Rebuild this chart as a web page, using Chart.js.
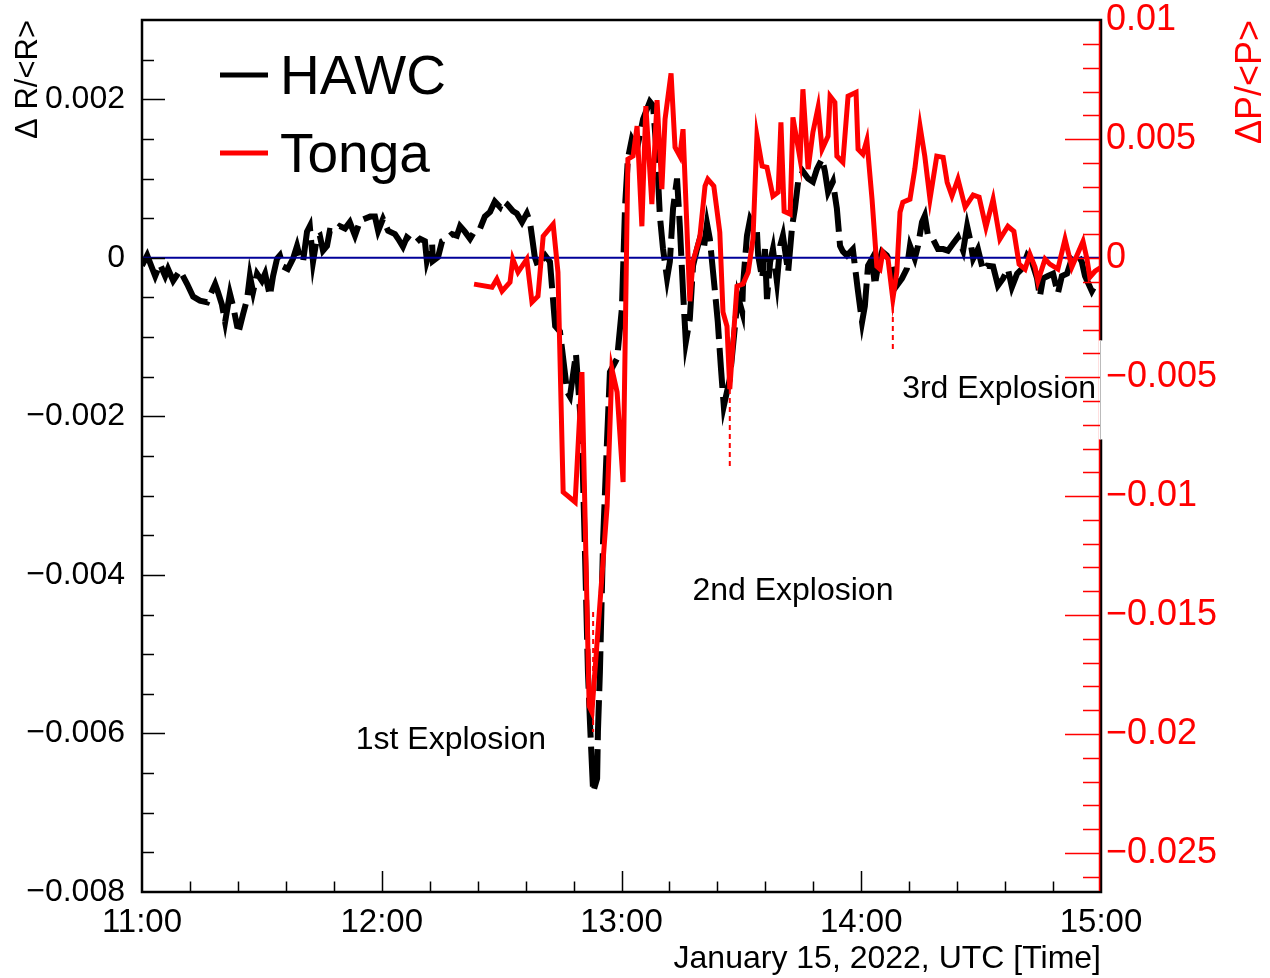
<!DOCTYPE html>
<html>
<head>
<meta charset="utf-8">
<script src="https://cdn.jsdelivr.net/npm/chart.js@4"></script>
<style>
  body { margin: 0; background: #fff; }
  #wrap { width: 1270px; height: 978px; }
</style>
</head>
<body>
<div id="wrap"><canvas id="tongaChart"></canvas></div>
<script>
// time is in minutes after 11:00 UTC
const hawcTime = [
  0, 1.3, 3.3, 4.5, 5.8, 6.5, 7.8, 9.5, 11.3, 12.8, 14.5, 16.3, 17.5, 18.3, 19.0, 20.0, 20.8, 22.0, 22.8, 23.8,
  24.5, 25.3, 26.3, 27.0, 27.8, 28.8, 30.0, 30.8, 32.0, 32.8, 33.8, 34.5, 35.3, 36.5, 37.8, 38.8, 39.5, 40.3, 41.3, 42.0,
  42.8, 43.8, 44.5, 45.3, 46.3, 47.0, 48.3, 49.5, 50.8, 52.0, 53.3, 54.6, 57.1, 58.3, 59.1, 60.3, 61.6, 63.3, 64.1, 65.3,
  66.3, 67.6, 68.3, 69.6, 70.8, 71.3, 72.6, 72.8, 74.1, 75.1, 76.3, 77.6, 78.8, 79.6, 80.8, 82.1, 83.3, 84.6, 85.8, 87.1,
  88.3, 89.6, 90.3, 91.3, 92.8, 93.8, 95.1, 96.3, 97.1, 98.3, 99.1, 100.9, 102.1, 103.4, 104.6, 106.4, 107.1, 108.6, 110.1, 110.9,
  111.6, 112.1, 112.9, 113.9, 114.1, 114.6, 115.4, 116.4, 117.1, 118.9, 120.1, 120.9, 121.6, 122.6, 123.9, 125.4, 127.1, 127.9, 128.9, 129.6,
  130.4, 131.4, 132.1, 132.9, 133.9, 134.6, 135.4, 136.1, 137.1, 137.9, 138.9, 139.6, 140.6, 141.4, 142.1, 143.4, 144.1, 144.9, 145.6, 147.1,
  148.4, 149.1, 150.2, 150.4, 151.4, 152.2, 153.9, 154.2, 155.2, 155.9, 156.4, 157.2, 157.9, 158.9, 159.7, 160.4, 161.7, 162.7, 163.4, 164.2,
  165.4, 166.7, 167.9, 168.9, 170.2, 170.9, 171.7, 172.9, 173.9, 174.7, 175.4, 176.4, 177.9, 179.1, 180.2, 180.9, 181.7, 182.7, 183.4, 184.2,
  185.2, 186.4, 187.7, 188.9, 190.2, 191.4, 192.2, 193.4, 194.2, 195.2, 195.9, 196.7, 197.9, 199.2, 200.5, 201.7, 203.0, 204.2, 205.5, 206.5,
  207.2, 208.0, 209.2, 210.5, 211.5, 213.0, 214.2, 215.5, 216.7, 217.7, 219.0, 220.2, 221.5, 222.7, 224.0, 224.7, 225.5, 226.7, 228.0, 229.2,
  230.2, 231.5, 232.7, 234.0, 235.2, 236.0, 237.7, 239.0
];
const hawcRate = [
  -0.00010, 0.00003, -0.00023, -0.00008, -0.00023, -0.00014, -0.00029, -0.00016, -0.00033, -0.00049, -0.00054, -0.00056, -0.00042, -0.00033, -0.00043, -0.00059, -0.00081, -0.00045, -0.00061, -0.00086,
  -0.00087, -0.00071, -0.00052, -0.00023, -0.00043, -0.00020, -0.00029, -0.00020, -0.00048, -0.00023, -0.00001, 0.00003, -0.00011, -0.00014, -0.00001, 0.00015, 0.00001, -0.00005, 0.00033, 0.00040,
  -0.00005, 0.00026, 0.00028, 0.00009, 0.00015, 0.00034, 0.00033, 0.00040, 0.00037, 0.00045, 0.00028, 0.00047, 0.00052, 0.00052, 0.00034, 0.00049, 0.00034, 0.00030, 0.00024, 0.00014,
  0.00026, 0.00021, 0.00018, 0.00024, 0.00021, -0.00004, 0.00018, -0.00004, 0.00001, 0.00021, 0.00024, 0.00030, 0.00028, 0.00040, 0.00033, 0.00024, 0.00034, 0.00037, 0.00052, 0.00058,
  0.00071, 0.00064, 0.00072, 0.00068, 0.00059, 0.00056, 0.00045, 0.00056, 0.00045, 0.00001, -0.00011, 0.00003, -0.00005, -0.00086, -0.00093, -0.00169, -0.00175, -0.00121, -0.00228, -0.00380,
  -0.00522, -0.00585, -0.00674, -0.00657, -0.00598, -0.00522, -0.00355, -0.00228, -0.00144, -0.00127, -0.00064, 0.00066, 0.00125, 0.00150, 0.00138, 0.00175, 0.00197, 0.00192, 0.00125, 0.00053,
  0.00011, -0.00026, -0.00005, 0.00062, 0.00100, 0.00040, -0.00043, -0.00106, -0.00077, -0.00010, 0.00011, 0.00024, 0.00011, 0.00043, 0.00024, -0.00043, -0.00081, -0.00140, -0.00187, -0.00153,
  -0.00086, -0.00048, -0.00068, -0.00035, 0.00028, 0.00049, 0.00033, 0.00003, -0.00026, 0.00011, -0.00052, -0.00005, 0.00011, -0.00030, 0.00015, 0.00028, -0.00018, 0.00040, 0.00062, 0.00096,
  0.00109, 0.00100, 0.00096, 0.00112, 0.00125, 0.00109, 0.00083, 0.00096, 0.00062, 0.00015, 0.00008, 0.00003, 0.00011, -0.00039, -0.00081, -0.00061, -0.00010, -0.00001, -0.00035, -0.00010,
  0.00008, 0.00003, -0.00010, -0.00035, -0.00026, -0.00014, 0.00015, -0.00001, 0.00015, 0.00045, 0.00053, 0.00028, 0.00024, 0.00011, 0.00011, 0.00009, 0.00018, 0.00026, 0.00009, 0.00040,
  0.00024, -0.00001, 0.00011, -0.00016, -0.00010, -0.00011, -0.00035, -0.00026, -0.00014, -0.00037, -0.00020, -0.00014, 0.00003, -0.00005, -0.00026, -0.00049, -0.00026, -0.00023, -0.00020, -0.00045,
  -0.00023, -0.00020, -0.00001, 0.00005, -0.00005, -0.00023, -0.00042, -0.00030
];

const tongaTime = [
  83.1, 87.6, 88.8, 90.1, 92.1, 92.8, 94.1, 96.3, 97.6, 99.1, 100.4, 102.9, 104.1, 105.4, 108.4, 110.1, 111.9, 112.6, 116.4, 117.6,
  118.9, 120.4, 121.6, 122.9, 123.9, 125.1, 126.1, 127.6, 128.9, 130.1, 130.9, 132.4, 133.4, 134.6, 135.4, 137.1, 137.9, 139.6, 140.9, 141.6,
  143.1, 144.6, 145.4, 146.4, 147.1, 148.9, 150.4, 151.7, 152.9, 153.9, 155.2, 156.4, 157.9, 159.2, 159.9, 160.7, 162.2, 162.9, 164.7, 165.4,
  166.7, 167.9, 169.2, 170.2, 171.7, 172.2, 173.4, 173.9, 175.4, 176.7, 178.7, 179.2, 180.4, 181.4, 182.7, 183.9, 184.7, 185.4, 186.7, 187.9,
  188.9, 189.7, 190.4, 192.2, 193.4, 194.7, 195.9, 197.2, 198.9, 200.5, 201.5, 202.7, 204.2, 206.0, 208.0, 209.5, 211.2, 213.0, 214.7, 216.7,
  218.2, 219.5, 221.0, 222.2, 223.5, 224.2, 226.0, 227.2, 229.2, 231.0, 232.7, 235.5, 236.5, 237.2, 238.5, 240.0
];
const tongaPressure = [
  -0.00109, -0.00122, -0.00088, -0.00139, -0.00101, -0.00004, -0.00059, -0.00004, -0.00185, -0.00160, 0.00092, 0.00143, -0.00059, -0.00983, -0.01025, -0.00479, -0.01882, -0.01908, -0.01042, -0.00466,
  -0.00563, -0.00941, 0.00416, 0.00429, 0.00555, 0.00134, 0.00639, 0.00227, 0.00664, 0.00290, 0.00584, 0.00777, 0.00466, 0.00429, 0.00542, -0.00181, -0.00013, 0.00088, 0.00303, 0.00332,
  0.00303, 0.00109, -0.00227, -0.00286, -0.00550, -0.00118, -0.00109, -0.00059, 0.00080, 0.00513, 0.00387, 0.00382, 0.00261, 0.00277, 0.00571, 0.00197, 0.00185, 0.00592, 0.00416, 0.00710,
  0.00374, 0.00529, 0.00634, 0.00458, 0.00513, 0.00681, 0.00655, 0.00429, 0.00403, 0.00681, 0.00697, 0.00458, 0.00437, 0.00496, 0.00248, -0.00034, -0.00046, 0.00025, -0.00004, -0.00172,
  -0.00059, 0.00193, 0.00235, 0.00248, 0.00374, 0.00555, 0.00429, 0.00248, 0.00429, 0.00424, 0.00319, 0.00261, 0.00332, 0.00214, 0.00265, 0.00256, 0.00130, 0.00248, 0.00080, 0.00134,
  0.00113, -0.00025, -0.00046, 0.00017, -0.00038, -0.00097, -0.00004, -0.00025, -0.00046, 0.00080, -0.00038, 0.00071, -0.00004, -0.00080, -0.00055, -0.00038
];

// eruption markers (pressure units)
const explosionNames = ['1st Explosion', '2nd Explosion', '3rd Explosion'];
const explosionTime = [112.9, 147.1, 187.9];
const explosionTop = [-0.01487, -0.00550, -0.00172];
const explosionBottom = [-0.01992, -0.00887, -0.00395];

const seriesNames = ['HAWC', 'Tonga'];
const timeTicks = [0, 60, 120, 180, 240];
const timeLabels = ['11:00', '12:00', '13:00', '14:00', '15:00'];
const rateTicks = [-0.008, -0.006, -0.004, -0.002, 0, 0.002];
const pressureTicks = [-0.025, -0.02, -0.015, -0.01, -0.005, 0, 0.005, 0.01];

const FONT = "'Liberation Sans', Arial, Helvetica, sans-serif";
const RED = '#ff0000';
// where the explosion captions sit: [minutes, rate]
const captionSpots = [[77.3, -0.00609], [162.9, -0.00420], [214.5, -0.00166]];

function fmtRate(v) {
  if (Math.abs(v) < 1e-12) return '0';
  return (v < 0 ? '\u2212' : '') + Math.abs(v).toFixed(3);
}
function fmtPressure(v) {
  if (Math.abs(v) < 1e-12) return '0';
  return (v < 0 ? '\u2212' : '') + String(parseFloat(Math.abs(v).toFixed(3)));
}

// major + minor tick positions covering [lo, hi]
function tickRun(majors, parts, lo, hi) {
  const step = (majors[1] - majors[0]) / parts;
  const first = majors[0] - Math.floor((majors[0] - lo) / step + 1e-6) * step;
  const out = [];
  for (let i = 0; first + i * step <= hi + step * 1e-6; i++) {
    const v = first + i * step;
    out.push({ v, major: majors.some(m => Math.abs(m - v) < step * 1e-3) });
  }
  return out;
}

const explosionMarks = [];
explosionTime.forEach((t, i) => {
  explosionMarks.push({ x: t, y: explosionTop[i] }, { x: t, y: explosionBottom[i] }, { x: t, y: null });
});

const rootFrame = {
  id: 'rootFrame',
  afterDatasetsDraw(chart) {
    const { ctx, chartArea: a, scales } = chart;
    const xs = scales.x, yl = scales.hawc, yr = scales.tonga;
    ctx.save();

    // frame
    ctx.strokeStyle = '#000';
    ctx.lineWidth = 2.5;
    ctx.strokeRect(a.left, a.top, a.right - a.left, a.bottom - a.top);
    ctx.strokeStyle = RED;
    ctx.lineWidth = 1.5;
    ctx.beginPath();
    ctx.moveTo(a.right - 1.5, a.top + 1);
    ctx.lineTo(a.right - 1.5, a.bottom - 1);
    ctx.stroke();

    // captions; the third one's box cuts the right axis
    ctx.font = `32px ${FONT}`;
    ctx.fillStyle = '#000';
    ctx.textAlign = 'center';
    ctx.textBaseline = 'middle';
    captionSpots.forEach((p, i) => {
      const cx = xs.getPixelForValue(p[0]), cy = yl.getPixelForValue(p[1]);
      if (i === 2) {
        ctx.fillStyle = '#fff';
        ctx.fillRect(a.right - 2.5, cy - 49, 5, 99);
        ctx.strokeStyle = '#bbb';
        ctx.lineWidth = 1;
        ctx.beginPath();
        ctx.moveTo(a.right - 0.5, cy - 49);
        ctx.lineTo(a.right - 0.5, cy + 50);
        ctx.stroke();
        ctx.fillStyle = '#000';
      }
      ctx.fillText(explosionNames[i], cx, cy);
    });

    // inward ticks, skipping the ones that sit on the frame
    const inside = (p, lo, hi) => p > lo + 2 && p < hi - 2;
    ctx.strokeStyle = '#000';
    ctx.lineWidth = 1.5;
    ctx.beginPath();
    tickRun(rateTicks, 4, yl.min, yl.max).forEach(t => {
      const py = Math.round(yl.getPixelForValue(t.v)) + 0.5;
      if (!inside(py, a.top, a.bottom)) return;
      ctx.moveTo(a.left, py);
      ctx.lineTo(a.left + (t.major ? 23 : 12), py);
    });
    tickRun(timeTicks, 5, xs.min, xs.max).forEach(t => {
      const px = Math.round(xs.getPixelForValue(t.v)) + 0.5;
      if (!inside(px, a.left, a.right)) return;
      ctx.moveTo(px, a.bottom);
      ctx.lineTo(px, a.bottom - (t.major ? 21 : 10.5));
    });
    ctx.stroke();
    ctx.strokeStyle = RED;
    ctx.beginPath();
    tickRun(pressureTicks, 5, yr.min, yr.max).forEach(t => {
      const py = Math.round(yr.getPixelForValue(t.v)) + 0.5;
      if (!inside(py, a.top, a.bottom)) return;
      ctx.moveTo(a.right - 1, py);
      ctx.lineTo(a.right - (t.major ? 36 : 18), py);
    });
    ctx.stroke();

    // right axis title, read bottom to top
    ctx.save();
    ctx.translate(1251, a.top);
    ctx.rotate(-Math.PI / 2);
    ctx.font = `36px ${FONT}`;
    ctx.fillStyle = RED;
    ctx.textAlign = 'right';
    ctx.textBaseline = 'middle';
    ctx.fillText('\u0394P/<P>', 0, 0);
    ctx.restore();

    // legend
    const colors = ['#000', RED];
    ctx.font = `55px ${FONT}`;
    ctx.textAlign = 'left';
    ctx.textBaseline = 'middle';
    seriesNames.forEach((name, i) => {
      const ly = a.top + 55 + i * 78;
      ctx.strokeStyle = colors[i];
      ctx.lineWidth = 5;
      ctx.beginPath();
      ctx.moveTo(a.left + 78, ly);
      ctx.lineTo(a.left + 126, ly);
      ctx.stroke();
      ctx.fillStyle = '#000';
      ctx.fillText(name, a.left + 138, ly + 4);
    });
    ctx.restore();
  }
};

const ctx = document.getElementById('tongaChart').getContext('2d');
const tongaChart = new Chart(ctx, {
  type: 'line',
  data: {
    datasets: [
      {
        label: 'explosions',
        data: explosionMarks,
        yAxisID: 'tonga',
        borderColor: RED,
        borderWidth: 2,
        borderDash: [5, 4],
        pointRadius: 0,
        spanGaps: false,
        order: 0
      },
      {
        label: seriesNames[1],
        data: tongaTime.map((t, i) => ({ x: t, y: tongaPressure[i] })),
        yAxisID: 'tonga',
        borderColor: RED,
        borderWidth: 5,
        pointRadius: 0,
        tension: 0,
        order: 1
      },
      {
        label: 'zero',
        data: [{ x: 0, y: 0 }, { x: 240, y: 0 }],
        yAxisID: 'hawc',
        borderColor: '#000099',
        borderWidth: 2,
        pointRadius: 0,
        order: 2
      },
      {
        label: seriesNames[0],
        data: hawcTime.map((t, i) => ({ x: t, y: hawcRate[i] })),
        yAxisID: 'hawc',
        borderColor: '#000',
        borderWidth: 6,
        borderDash: [40, 9],
        borderCapStyle: 'butt',
        pointRadius: 0,
        tension: 0,
        order: 3
      }
    ]
  },
  options: {
    responsive: true,
    maintainAspectRatio: false,
    animation: false,
    events: [],
    layout: { padding: { top: 20, left: 0, right: 0, bottom: 0 } },
    plugins: {
      legend: { display: false },
      tooltip: { enabled: false }
    },
    scales: {
      x: {
        type: 'linear',
        position: 'bottom',
        min: 0,
        max: 240,
        grid: { display: false },
        border: { display: false },
        ticks: {
          color: '#000',
          font: { size: 33, family: FONT },
          padding: 3,
          maxRotation: 0,
          autoSkip: false,
          callback: v => timeLabels[timeTicks.indexOf(v)]
        },
        title: {
          display: true,
          text: 'January 15, 2022, UTC [Time]',
          align: 'end',
          color: '#000',
          font: { size: 32, family: FONT },
          padding: { top: 0, bottom: 0 }
        },
        afterBuildTicks: s => { s.ticks = timeTicks.map(v => ({ value: v })); },
        afterFit: s => { s.height = 86; s.paddingLeft = 0; s.paddingRight = 0; }
      },
      hawc: {
        type: 'linear',
        position: 'left',
        min: -0.008,
        max: 0.003,
        grid: { display: false },
        border: { display: false },
        ticks: {
          color: '#000',
          font: { size: 32, family: FONT },
          padding: 9,
          autoSkip: false,
          callback: v => fmtRate(v)
        },
        title: {
          display: true,
          text: '\u0394 R/<R>',
          align: 'end',
          color: '#000',
          font: { size: 31, family: FONT },
          padding: { top: 10, bottom: 0 }
        },
        afterBuildTicks: s => { s.ticks = rateTicks.map(v => ({ value: v })); },
        afterFit: s => { s.width = 142; s.paddingTop = 0; s.paddingBottom = 0; }
      },
      tonga: {
        type: 'linear',
        position: 'right',
        min: -0.02664,
        max: 0.01001,
        grid: { display: false },
        border: { display: false },
        ticks: {
          color: RED,
          font: { size: 36, family: FONT },
          padding: -3,
          autoSkip: false,
          callback: v => fmtPressure(v)
        },
        afterBuildTicks: s => { s.ticks = pressureTicks.map(v => ({ value: v })); },
        afterFit: s => { s.width = 169; s.paddingTop = 0; s.paddingBottom = 0; }
      }
    }
  },
  plugins: [rootFrame]
});
</script>
</body>
</html>
